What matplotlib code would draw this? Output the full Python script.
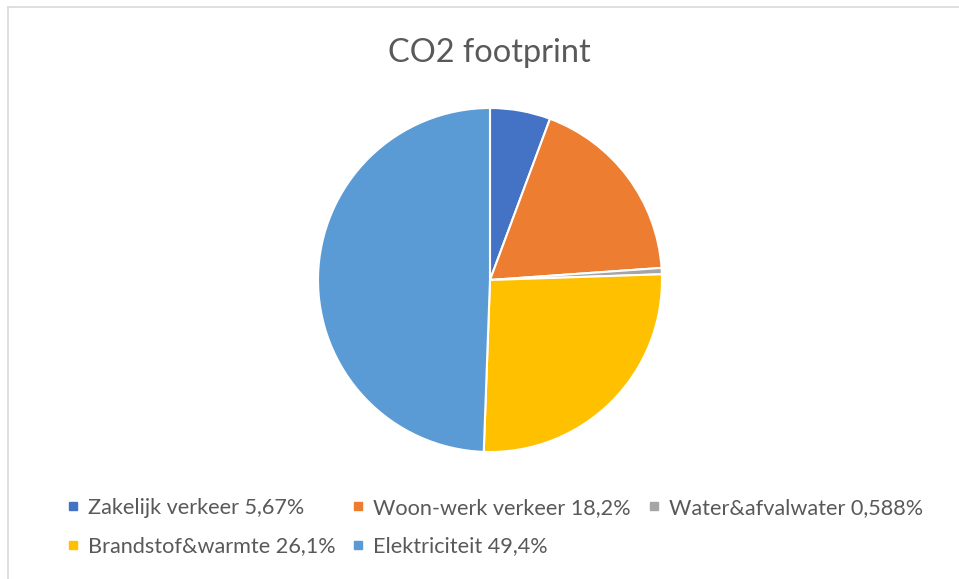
import matplotlib.pyplot as plt
from matplotlib.lines import Line2D

plt.rcParams['font.family'] = ['Lato', 'DejaVu Sans']

labels = ['Zakelijk verkeer', 'Woon-werk verkeer', 'Water&afvalwater',
          'Brandstof&warmte', 'Elektriciteit']
pct = [5.67, 18.2, 0.588, 26.1, 49.4]
pct_txt = ['5,67%', '18,2%', '0,588%', '26,1%', '49,4%']
colors = ['#4472C4', '#ED7D31', '#A5A5A5', '#FFC000', '#5B9BD5']

W, H = 959, 579
fig = plt.figure(figsize=(W / 100, H / 100), dpi=100)

# chart frame (only top and left edge visible)
fig.add_artist(Line2D([8 / W, 8 / W], [0, 1 - 7 / H], transform=fig.transFigure,
                      color='#D9D9D9', lw=1.2))
fig.add_artist(Line2D([8 / W, 1], [1 - 7 / H, 1 - 7 / H], transform=fig.transFigure,
                      color='#D9D9D9', lw=1.2))

cx, cy, r = 490, 280, 172
ax = fig.add_axes([(cx - r) / W, 1 - (cy + r) / H, 2 * r / W, 2 * r / H])
ax.pie(pct, colors=colors, startangle=90, counterclock=False,
       wedgeprops=dict(edgecolor='white', linewidth=1.5))
ax.set_xlim(-1, 1)
ax.set_ylim(-1, 1)
ax.set_aspect('auto')
ax.axis('off')

fig.text(489 / W, 1 - 53 / H, 'CO2 footprint', ha='center', va='center',
         fontsize=23.4, color='#595959')

handles = [Line2D([], [], ls='', marker='s', markersize=5.5, color=c) for c in colors]
names = [f'{l} {p}' for l, p in zip(labels, pct_txt)]
order = [0, 3, 1, 4, 2]
leg = fig.legend([handles[i] for i in order], [names[i] for i in order],
                 ncol=3, loc='upper left', bbox_to_anchor=(66 / W, 1 - 498 / H),
                 frameon=False, fontsize=15.6, labelcolor='#595959',
                 handlelength=0.6, handletextpad=0.4, columnspacing=0.75,
                 labelspacing=0.85, borderpad=0, borderaxespad=0)

fig.savefig('out.png', dpi=100, facecolor='white')
